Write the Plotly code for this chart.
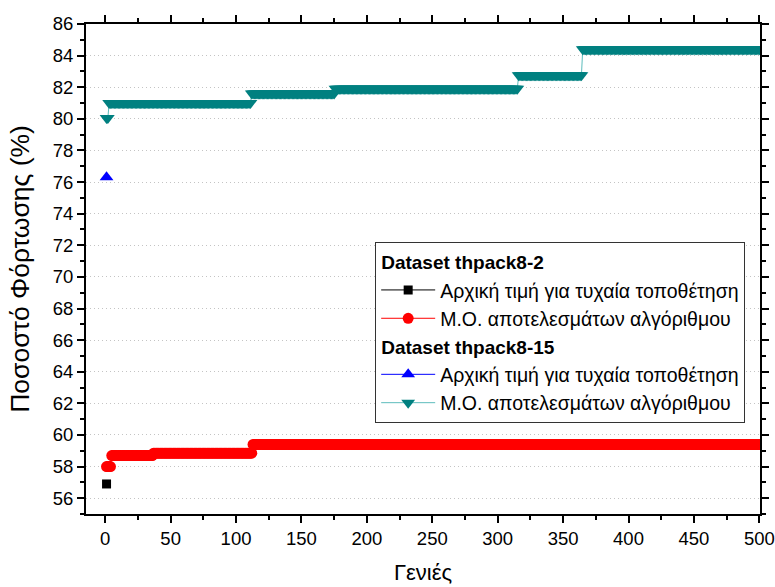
import numpy as np
import plotly.graph_objects as go

# --- data -------------------------------------------------------------
# Dataset thpack8-2
init_82_gen = [1]
init_82_val = [56.9]
# mean best value per generation, stored as (level, last generation of that level)
mean_82_levels = [58.0, 58.7, 58.85, 59.4]
mean_82_until = [4, 36, 112, 500]

# Dataset thpack8-15
init_815_gen = [1]
init_815_val = [76.3]
mean_815_levels = [80.05, 81.0, 81.6, 81.9, 82.75, 84.4]
mean_815_until = [2, 111, 175, 315, 364, 500]

x_ticks = list(range(0, 501, 50))
y_ticks = list(range(56, 87, 2))


def expand(levels, until):
    """Turn run-length step data into one value per generation (1..N)."""
    runs = np.diff([0] + until)
    gens = np.arange(1, until[-1] + 1)
    return gens, np.repeat(levels, runs)


g82, v82 = expand(mean_82_levels, mean_82_until)
g815, v815 = expand(mean_815_levels, mean_815_until)

FONT = "Arial, Liberation Sans, sans-serif"

fig = go.Figure()

fig.add_trace(go.Scatter(
    x=init_82_gen, y=init_82_val, mode="lines+markers",
    name="Αρχική τιμή για τυχαία τοποθέτηση",
    legendgroup="a", legendgrouptitle=dict(text="<b>Dataset thpack8-2</b>"),
    line=dict(color="black", width=1),
    marker=dict(symbol="square", size=9, color="black"),
))
fig.add_trace(go.Scatter(
    x=g82, y=v82, mode="lines+markers",
    name="Μ.Ο. αποτελεσμάτων αλγόριθμου",
    legendgroup="a",
    line=dict(color="#ff0000", width=1),
    marker=dict(symbol="circle", size=11, color="#ff0000"),
))
fig.add_trace(go.Scatter(
    x=init_815_gen, y=init_815_val, mode="lines+markers",
    name="Αρχική τιμή για τυχαία τοποθέτηση",
    legendgroup="b", legendgrouptitle=dict(text="<b>Dataset thpack8-15</b>"),
    line=dict(color="#0000ff", width=1),
    marker=dict(symbol="triangle-up", size=12, color="#0000ff"),
))
fig.add_trace(go.Scatter(
    x=g815, y=v815, mode="lines+markers",
    name="Μ.Ο. αποτελεσμάτων αλγόριθμου",
    legendgroup="b",
    line=dict(color="#5cbcbc", width=1),
    marker=dict(symbol="triangle-down", size=12, color="#008080"),
))

axis_common = dict(
    showline=True, linecolor="black", linewidth=2, mirror="ticks",
    ticks="outside", ticklen=7, tickwidth=2, tickcolor="black",
    tickfont=dict(family=FONT, size=18.5, color="black"),
    zeroline=False, automargin=False,
)

fig.update_xaxes(
    range=[-14.7, 500.5], tickvals=x_ticks, showgrid=False,
    title=dict(text="Γενιές", font=dict(family=FONT, size=22, color="black"), standoff=16),
    minor=dict(ticks="outside", ticklen=4, tickwidth=2, tickcolor="black", dtick=25, tick0=0, showgrid=False),
    **axis_common,
)
fig.update_yaxes(
    range=[55, 86], tickvals=y_ticks,
    showgrid=True, gridcolor="#c4c4c4", gridwidth=1, griddash="1px,3px",
    title=dict(text="Ποσοστό Φόρτωσης (%)", font=dict(family=FONT, size=26.5, color="black"), standoff=15),
    minor=dict(ticks="outside", ticklen=4, tickwidth=2, tickcolor="black", dtick=1, tick0=0, showgrid=False),
    **axis_common,
)

fig.update_layout(
    width=775, height=587,
    margin=dict(l=86, r=15, t=24, b=73),
    paper_bgcolor="white", plot_bgcolor="white",
    font=dict(family=FONT, color="black"),
    legend=dict(
        x=0.978, y=0.555, xanchor="right", yanchor="top",
        bgcolor="white", bordercolor="#333333", borderwidth=1,
        font=dict(family=FONT, size=19.5, color="black"),
        grouptitlefont=dict(family=FONT, size=19, color="black"),
        tracegroupgap=0, itemwidth=54, groupclick="toggleitem",
    ),
)

fig.write_html("out.html")
